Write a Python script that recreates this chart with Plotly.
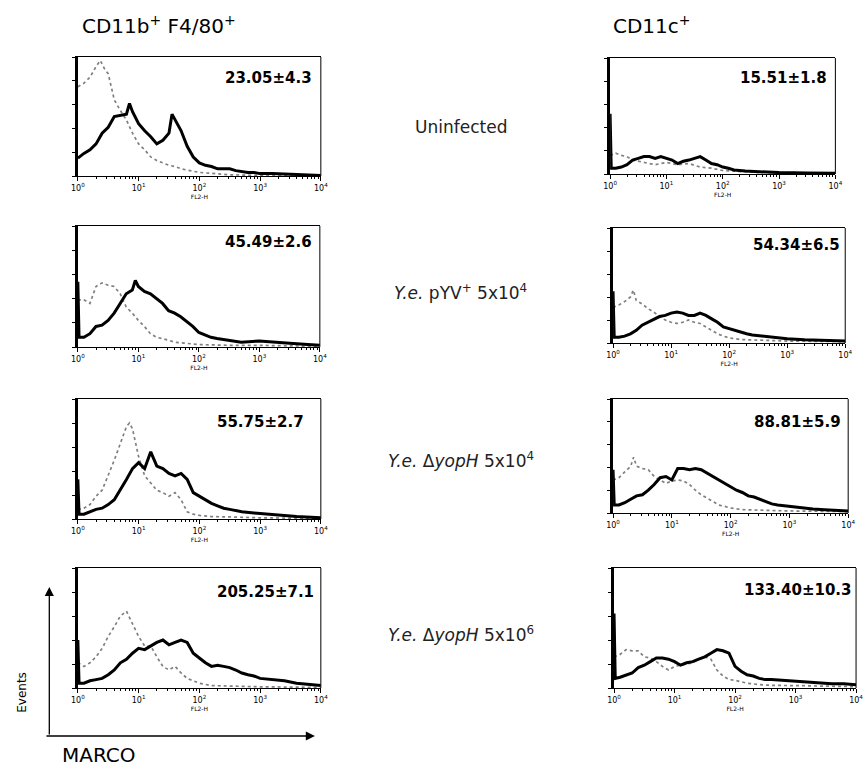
import plotly.graph_objects as go

W, H = 866, 769

# ---------------- data (log10 FL2-H position, % of panel max events) ----------------
# CD11b+ F4/80+ column
b_uninf_marco_lx = [0,0.1,0.2,0.3,0.4,0.5,0.6,0.7,0.8,0.85,0.9,1.0,1.1,1.2,1.3,1.4,1.5,1.55,1.6,1.7,1.8,1.9,2.0,2.1,2.2,2.3,2.4,2.5,2.6,2.7,2.8,2.9,3.0,3.2,3.5,3.7,4.0]
b_uninf_marco_y = [15,19,22,27,36,41,50,51,52,61,54,44,38,33,27,30,36,52,47,38,25,16,11,9,8,6,6,6,4.5,3.6,3,3,2,2,1.4,1,0.5]
b_uninf_iso_lx = [0,0.1,0.2,0.3,0.37,0.45,0.5,0.6,0.7,0.8,0.9,1.0,1.1,1.2,1.3,1.4,1.5,1.6,1.7,1.8,1.9,2.0,2.5,3.0,4.0]
b_uninf_iso_y = [75,78,83,92,97,89,86,64,55,47,36,27,22,16,13,11,9,8,6,5,4,3,1,0.5,0.3]

b_pyv_marco_lx = [0,0.02,0.1,0.2,0.3,0.4,0.5,0.6,0.7,0.8,0.9,0.95,1.0,1.1,1.2,1.3,1.4,1.5,1.6,1.7,1.8,1.9,2.0,2.1,2.2,2.3,2.5,2.7,3.0,3.2,3.5,3.8,4.0]
b_pyv_marco_y = [54,8,8,11,17,18,22,28,36,44,47,55,50,46,44,40,36,30,28,25,21,17,12,10,8,7,5.5,4,5,4,3,2,1.4]
b_pyv_iso_lx = [0,0.1,0.2,0.3,0.4,0.5,0.6,0.7,0.8,0.9,1.0,1.1,1.2,1.3,1.4,1.5,1.6,1.8,2.0,2.5,3.0,4.0]
b_pyv_iso_y = [39,39,36,50,53,51,50,44,33,28,22,17,11,8,7,5.5,4,3,2,1.4,1.4,0.5]

b_yoph4_marco_lx = [0,0.02,0.1,0.2,0.3,0.4,0.5,0.6,0.7,0.8,0.9,1.0,1.1,1.2,1.3,1.4,1.5,1.6,1.7,1.8,1.9,2.0,2.1,2.2,2.3,2.4,2.5,2.7,2.9,3.0,3.3,3.6,4.0]
b_yoph4_marco_y = [33,4,4,6,8,9,12,16,24,33,42,47,42,56,44,42,38,36,38,33,22,19,16,13,11,9,8,6,5,4.5,3.6,2,1]
b_yoph4_iso_lx = [0,0.1,0.2,0.3,0.4,0.5,0.6,0.7,0.8,0.85,0.9,1.0,1.1,1.2,1.3,1.4,1.5,1.6,1.7,1.8,1.9,2.0,2.2,2.5,3.0,4.0]
b_yoph4_iso_y = [8,9,12,19,24,36,49,63,77,80,75,52,36,30,24,22,19,22,16,6,4,3,2,1.7,1,0.5]

b_yoph6_marco_lx = [0,0.02,0.1,0.2,0.3,0.4,0.5,0.6,0.7,0.8,0.9,1.0,1.1,1.2,1.3,1.4,1.5,1.6,1.7,1.8,1.9,2.0,2.1,2.2,2.3,2.4,2.5,2.6,2.7,2.8,2.9,3.0,3.2,3.4,3.6,3.8,4.0]
b_yoph6_marco_y = [40,4,4,6,7,8,11,15,21,24,29,33,32,35,38,40,36,38,40,38,29,25,21,18,19,18,17,15,12.5,11,10,8,7,6,4,3,2]
b_yoph6_iso_lx = [0,0.1,0.2,0.3,0.4,0.5,0.6,0.7,0.8,0.9,1.0,1.1,1.2,1.3,1.4,1.5,1.6,1.7,1.8,1.9,2.0,2.2,2.5,3.0,4.0]
b_yoph6_iso_y = [21,18,21,26,33,43,51,60,64,54,43,35,35,26,18,15,18,12.5,8,6,4,2,1.4,1,0.5]

# CD11c+ column
c_uninf_marco_lx = [0,0.02,0.1,0.2,0.3,0.4,0.5,0.6,0.7,0.8,0.9,1.0,1.1,1.2,1.3,1.4,1.5,1.6,1.7,1.8,1.9,2.0,2.1,2.2,2.4,2.6,2.8,3.0,3.5,4.0]
c_uninf_marco_y = [52,5,5,6,8,12,13.5,15,15,13.5,15,13.5,12,9,11,12,13.5,15,12,9,8,6,5,3.5,2.6,2,1.2,1.2,0.9,0.6]
c_uninf_iso_lx = [0,0.1,0.2,0.3,0.4,0.5,0.6,0.7,0.8,0.9,1.0,1.2,1.4,1.6,1.8,2.0,2.3,2.6,3.0,4.0]
c_uninf_iso_y = [16,18,16,15,12,11,10,9,8,9,10,8,9,6,5,3,2,1.4,1.2,0.9]

c_pyv_marco_lx = [0,0.02,0.1,0.2,0.3,0.4,0.5,0.6,0.7,0.8,0.9,1.0,1.1,1.2,1.3,1.4,1.5,1.6,1.7,1.8,1.9,2.0,2.1,2.2,2.3,2.4,2.6,2.8,3.0,3.3,3.6,4.0]
c_pyv_marco_y = [45,5,5,6,8,11,15.5,18,21,23,24,26,27,26,24,24,26,24,21,18,14,12.5,11,9,8,7,6,4.4,3.8,2.9,2.3,1.7]
c_pyv_iso_lx = [0,0.1,0.2,0.3,0.35,0.4,0.5,0.6,0.7,0.8,0.9,1.0,1.1,1.2,1.3,1.4,1.5,1.6,1.7,1.8,1.9,2.0,2.2,2.5,3.0,4.0]
c_pyv_iso_y = [31,33,36,40,46,37,34,30,27,23,20,18,17,18,20,18,17,14,11,8,6,4.4,3,2.3,1.7,1.2]

c_yoph4_marco_lx = [0,0.02,0.1,0.2,0.3,0.4,0.5,0.6,0.7,0.8,0.9,1.0,1.1,1.2,1.3,1.4,1.5,1.6,1.7,1.8,1.9,2.0,2.1,2.2,2.3,2.4,2.5,2.6,2.7,2.8,2.9,3.0,3.2,3.4,3.6,3.8,4.0]
c_yoph4_marco_y = [38,7,7,9,12,15,16,20,25,31,32,29,39,39,38,39,38,35,32,29,26,23,20,18,15,14,12,10,8,7,6.4,5.8,4.4,3.5,2.9,2.3,1.8]
c_yoph4_iso_lx = [0,0.1,0.2,0.3,0.35,0.4,0.5,0.6,0.7,0.8,0.9,1.0,1.1,1.2,1.3,1.4,1.5,1.6,1.7,1.8,1.9,2.0,2.2,2.5,3.0,4.0]
c_yoph4_iso_y = [29,31,36,41,49,41,39,38,32,29,26,28,29,28,25,20,16,13,10,7,5.8,4.4,2.9,2.3,1.8,1.2]

c_yoph6_marco_lx = [0,0.02,0.1,0.2,0.3,0.4,0.5,0.6,0.7,0.8,0.9,1.0,1.1,1.2,1.3,1.4,1.5,1.6,1.7,1.8,1.9,2.0,2.1,2.2,2.3,2.4,2.5,2.6,2.8,3.0,3.2,3.4,3.6,3.8,4.0]
c_yoph6_marco_y = [62,8,9,11,12.5,17,19,22,25,25,24,22,19,21,22,24,26,29,32,31,29,18,14,11,10,8,7,7,6.4,5.5,4.7,4,3.6,3.6,2.8]
c_yoph6_iso_lx = [0,0.1,0.2,0.3,0.4,0.5,0.6,0.7,0.8,0.9,1.0,1.1,1.2,1.3,1.4,1.5,1.6,1.7,1.8,1.9,2.0,2.2,2.4,2.6,3.0,3.5,4.0]
c_yoph6_iso_y = [26,28,32,31,31,26,25,22,18,15,18,19,20,21,24,26,24,15,10,7,6.4,4,2.8,2.2,2,1.4,1.1]

mfi_labels = ["23.05\u00b14.3", "45.49\u00b12.6", "55.75\u00b12.7", "205.25\u00b17.1",
              "15.51\u00b11.8", "54.34\u00b16.5", "88.81\u00b15.9", "133.40\u00b110.3"]
column_titles = ["CD11b<sup>+</sup> F4/80<sup>+</sup>", "CD11c<sup>+</sup>"]
row_labels = ["Uninfected",
              "<i>Y.e.</i> pYV<sup>+</sup> 5x10<sup>4</sup>",
              "<i>Y.e.</i> \u0394<i>yopH</i> 5x10<sup>4</sup>",
              "<i>Y.e.</i> \u0394<i>yopH</i> 5x10<sup>6</sup>"]
decade_ticks = [1, 10, 100, 1000, 10000]
decade_text = ["10<sup>0</sup>", "10<sup>1</sup>", "10<sup>2</sup>", "10<sup>3</sup>", "10<sup>4</sup>"]

panels_data = [
    (b_uninf_marco_lx, b_uninf_marco_y, b_uninf_iso_lx, b_uninf_iso_y),
    (b_pyv_marco_lx, b_pyv_marco_y, b_pyv_iso_lx, b_pyv_iso_y),
    (b_yoph4_marco_lx, b_yoph4_marco_y, b_yoph4_iso_lx, b_yoph4_iso_y),
    (b_yoph6_marco_lx, b_yoph6_marco_y, b_yoph6_iso_lx, b_yoph6_iso_y),
    (c_uninf_marco_lx, c_uninf_marco_y, c_uninf_iso_lx, c_uninf_iso_y),
    (c_pyv_marco_lx, c_pyv_marco_y, c_pyv_iso_lx, c_pyv_iso_y),
    (c_yoph4_marco_lx, c_yoph4_marco_y, c_yoph4_iso_lx, c_yoph4_iso_y),
    (c_yoph6_marco_lx, c_yoph6_marco_y, c_yoph6_iso_lx, c_yoph6_iso_y),
]

# ---------------- layout geometry (pixels) ----------------
# (left, right, top, bottom)
boxes = [(72, 319, 57, 176), (72, 318, 226, 347), (72, 319, 399, 519), (72, 319, 568, 688),
         (613, 842, 58, 174), (616, 852, 228, 343), (616, 855, 399, 513), (617, 863, 568, 688)]
label_pos = [(312, 78), (312, 242), (304, 422), (314, 592),
             (835, 78), (849, 245), (850, 422), (860, 590)]

FONT = "DejaVu Sans"
fig = go.Figure()
minor_vals = [m * 10 ** d for d in range(4) for m in range(2, 10)]

layout = dict(width=W, height=H, margin=dict(l=0, r=0, t=0, b=0),
              paper_bgcolor="white", plot_bgcolor="white", showlegend=False,
              font=dict(family=FONT, color="black"))
shapes = []
annotations = []

for i, (mlx, my, ilx, iy) in enumerate(panels_data):
    n = "" if i == 0 else str(i + 1)
    xa, ya = "x" + n, "y" + n
    l, r, t, b = boxes[i]
    fig.add_trace(go.Scatter(x=[10 ** v for v in ilx], y=iy, mode="lines",
                             line=dict(color="#808080", width=1.7, dash="dot"),
                             xaxis=xa, yaxis=ya))
    fig.add_trace(go.Scatter(x=[10 ** v for v in mlx], y=my, mode="lines",
                             line=dict(color="black", width=3),
                             xaxis=xa, yaxis=ya))
    layout["xaxis" + n] = dict(
        domain=[l / W, r / W], anchor=ya, type="log", range=[0, 4],
        tickmode="array", tickvals=decade_ticks, ticktext=decade_text,
        tickfont=dict(size=8, family=FONT), ticks="outside", ticklen=4, tickcolor="black",
        minor=dict(tickmode="array", tickvals=minor_vals, ticks="outside", ticklen=2,
                   tickcolor="black", showgrid=False),
        showline=True, linecolor="black", linewidth=1, mirror=True,
        showgrid=False, zeroline=False,
        title=dict(text="FL2-H", font=dict(size=6, family=FONT), standoff=1))
    layout["yaxis" + n] = dict(
        domain=[1 - b / H, 1 - t / H], anchor=xa, range=[0, 100],
        tickmode="linear", tick0=0, dtick=20, ticks="outside", ticklen=3,
        tickcolor="black", showticklabels=False,
        showline=True, linecolor="black", linewidth=2.5, mirror=False,
        showgrid=False, zeroline=False)
    shapes.append(dict(type="line", xref=xa + " domain", yref=ya + " domain",
                       x0=1, x1=1, y0=0, y1=1, line=dict(color="black", width=1)))
    lx, ly = label_pos[i]
    annotations.append(dict(text="<b>" + mfi_labels[i] + "</b>", xref="paper", yref="paper",
                            x=lx / W, y=1 - ly / H, xanchor="right", yanchor="middle",
                            showarrow=False, font=dict(size=15, family=FONT)))

# column titles
annotations.append(dict(text=column_titles[0], xref="paper", yref="paper", x=74 / W, y=1 - 25 / H,
                        xanchor="left", yanchor="middle", showarrow=False,
                        font=dict(size=20, family=FONT)))
annotations.append(dict(text=column_titles[1], xref="paper", yref="paper", x=614 / W, y=1 - 25 / H,
                        xanchor="left", yanchor="middle", showarrow=False,
                        font=dict(size=20, family=FONT)))
# row labels
for txt, yy in zip(row_labels, [127, 292, 460, 634]):
    annotations.append(dict(text=txt, xref="paper", yref="paper", x=461 / W, y=1 - yy / H,
                            xanchor="center", yanchor="middle", showarrow=False,
                            font=dict(size=17, family=FONT, color="#222")))
# axis arrows
annotations.append(dict(text="", xref="paper", yref="paper", x=43 / W, y=1 - 587 / H,
                        ax=0, ay=149, showarrow=True, arrowhead=2, arrowsize=1.4,
                        arrowwidth=1.3, arrowcolor="black"))
annotations.append(dict(text="", xref="paper", yref="paper", x=313 / W, y=1 - 736 / H,
                        ax=-270, ay=0, showarrow=True, arrowhead=2, arrowsize=1.4,
                        arrowwidth=1.3, arrowcolor="black"))
annotations.append(dict(text="Events", xref="paper", yref="paper", x=15 / W, y=1 - 692 / H,
                        textangle=-90, xanchor="center", yanchor="middle", showarrow=False,
                        font=dict(size=12, family=FONT)))
annotations.append(dict(text="MARCO", xref="paper", yref="paper", x=54 / W, y=1 - 755 / H,
                        xanchor="left", yanchor="middle", showarrow=False,
                        font=dict(size=20, family=FONT)))

layout["shapes"] = shapes
layout["annotations"] = annotations
fig.update_layout(**layout)
fig.write_html("out.html")
